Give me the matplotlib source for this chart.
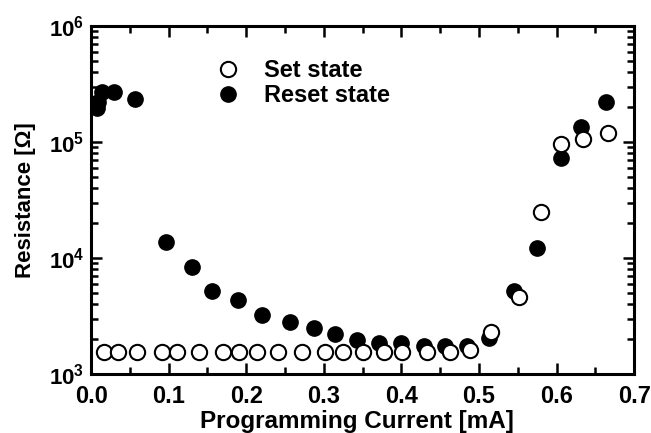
import matplotlib.pyplot as plt
from matplotlib.ticker import MultipleLocator, LogLocator, NullFormatter

plt.rcParams['font.family'] = ['Liberation Sans', 'DejaVu Sans']
plt.rcParams['font.weight'] = 'bold'
plt.rcParams['mathtext.fontset'] = 'custom'
plt.rcParams['mathtext.rm'] = 'Liberation Sans:bold'
plt.rcParams['mathtext.bf'] = 'Liberation Sans:bold'

# Set state (open circles)
set_x = [0.017, 0.034, 0.059, 0.092, 0.111, 0.139, 0.170, 0.190, 0.214, 0.241,
         0.272, 0.302, 0.325, 0.351, 0.377, 0.401, 0.433, 0.463, 0.489, 0.516,
         0.551, 0.580, 0.606, 0.634, 0.667]
set_r = [1550, 1550, 1550, 1550, 1550, 1550, 1550, 1550, 1550, 1550,
         1550, 1550, 1550, 1550, 1550, 1550, 1550, 1560, 1620, 2300,
         4600, 25000, 96000, 107000, 120000]

# Reset state (filled circles)
reset_x = [0.008, 0.009, 0.014, 0.030, 0.057, 0.097, 0.130, 0.156, 0.189, 0.220,
           0.257, 0.287, 0.315, 0.343, 0.371, 0.400, 0.429, 0.456, 0.485, 0.513,
           0.545, 0.575, 0.606, 0.632, 0.664]
reset_r = [195000, 220000, 270000, 270000, 235000, 13800, 8400, 5200, 4350, 3250,
           2800, 2490, 2210, 1960, 1850, 1850, 1740, 1740, 1740, 2040,
           5200, 12300, 73000, 135000, 220000]

xticks = [0.0, 0.1, 0.2, 0.3, 0.4, 0.5, 0.6, 0.7]
yticks = [1e3, 1e4, 1e5, 1e6]
ylabels = [r'$10^{3}$', r'$10^{4}$', r'$10^{5}$', r'$10^{6}$']

fig = plt.figure(figsize=(6.51, 4.33), dpi=100)
ax = fig.add_axes([0.140, 0.136, 0.834, 0.804])

ax.plot(set_x, set_r, 'o', mfc='white', mec='black', mew=1.5, ms=11,
        label='Set state', zorder=3)
ax.plot(reset_x, reset_r, 'o', mfc='black', mec='black', ms=11,
        label='Reset state', zorder=2)

ax.set_yscale('log')
ax.set_xlim(0, 0.7)
ax.set_ylim(1e3, 1e6)
ax.set_xticks(xticks)
ax.set_xticklabels(['%.1f' % v for v in xticks])
ax.xaxis.set_minor_locator(MultipleLocator(0.05))
ax.set_yticks(yticks)
ax.set_yticklabels(ylabels)
ax.yaxis.set_minor_locator(LogLocator(base=10, subs=range(2, 10)))
ax.yaxis.set_minor_formatter(NullFormatter())

ax.tick_params(which='both', direction='in', top=True, right=True, width=1.8)
ax.tick_params(which='major', length=8)
ax.tick_params(axis='x', which='major', labelsize=17, pad=8)
ax.tick_params(axis='y', which='major', labelsize=16, pad=5)
ax.tick_params(which='minor', length=5)
for s in ax.spines.values():
    s.set_linewidth(2.2)

ax.set_xlabel('Programming Current [mA]', fontsize=17.5, fontweight='bold', va='top')
ax.xaxis.set_label_coords(0.49, -0.102)
ax.set_ylabel('Resistance [Ω]', fontsize=16, fontweight='bold', labelpad=9)

ax.legend(loc='upper left', bbox_to_anchor=(0.17, 0.965), frameon=False,
          fontsize=17, handletextpad=0.5, labelspacing=0.08, markerscale=1.0)

fig.savefig('out.png', dpi=100)
